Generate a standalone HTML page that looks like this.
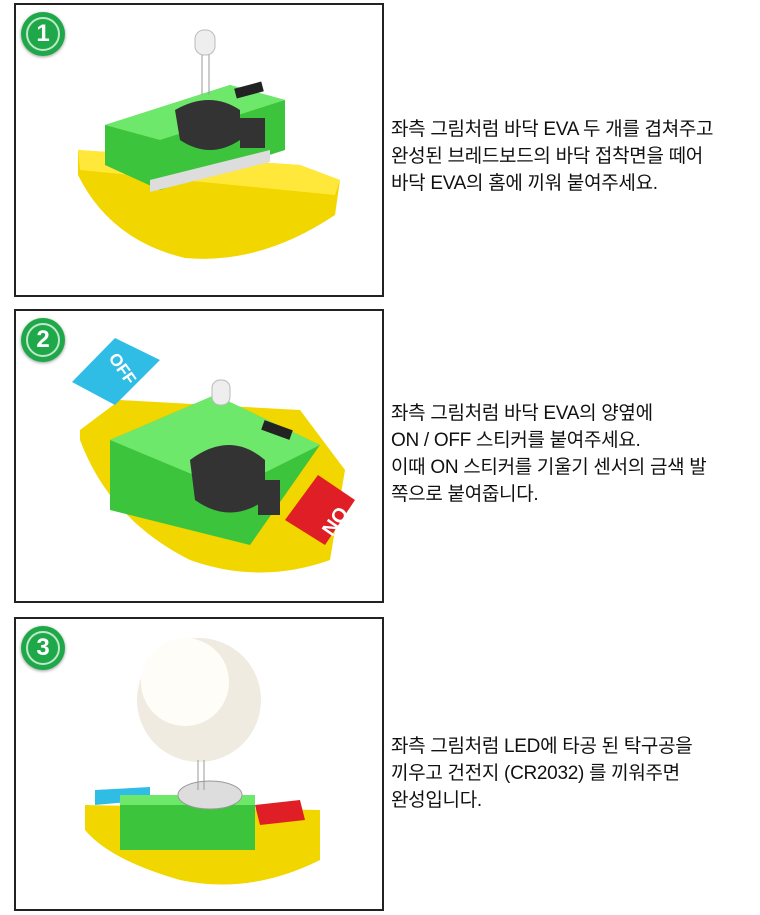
<!DOCTYPE html>
<html><head><meta charset="utf-8"><style>
body{margin:0;width:760px;height:915px;background:#fff;position:relative;overflow:hidden;font-family:"Liberation Sans","Noto Sans CJK KR",sans-serif}
.p{position:absolute;left:14px;width:366px;border:2px solid #222;background:#fff}
.t{position:absolute;left:391px;font-size:19px;line-height:27px;color:#111;white-space:nowrap;letter-spacing:-0.3px}
.b{position:absolute;left:21px;width:44px;height:44px;border-radius:50%;background:#1ea84a;box-shadow:0 1px 3px rgba(0,0,0,.4)}
.b span{position:absolute;left:5px;top:5px;width:30px;height:30px;border:2px solid #bfe8c9;border-radius:50%;color:#fff;font-weight:bold;font-size:24px;text-align:center;line-height:30px}
</style></head><body>
<div class="p" style="top:3px;height:290px"></div>
<div class="p" style="top:309px;height:290px"></div>
<div class="p" style="top:617px;height:290px"></div>
<div class="b" style="top:12px"><span>1</span></div>
<div class="b" style="top:318px"><span>2</span></div>
<div class="b" style="top:626px"><span>3</span></div>

<svg style="position:absolute;left:0;top:0" width="760" height="915">
<!-- panel1 -->
<path d="M78,150 L300,165 L340,180 L335,215 Q260,265 185,258 Q110,240 78,175 Z" fill="#f2d600"/>
<path d="M78,150 L300,165 L340,180 L335,195 L80,170Z" fill="#ffe83a"/>
<polygon points="105,125 230,85 285,100 285,150 160,190 105,165" fill="#3cc43c"/>
<polygon points="105,125 230,85 285,100 160,140" fill="#6ee86a"/>
<polygon points="150,180 270,150 270,162 150,192" fill="#ddd"/>
<path d="M175,110 Q210,90 240,110 L240,140 Q210,160 180,140Z" fill="#333"/>
<rect x="240" y="118" width="25" height="30" fill="#333"/>
<rect x="195" y="30" width="20" height="25" rx="9" fill="#eee" stroke="#bbb"/>
<line x1="202" y1="55" x2="202" y2="95" stroke="#999"/><line x1="209" y1="55" x2="209" y2="95" stroke="#999"/>
<rect x="235" y="85" width="28" height="10" fill="#222" transform="rotate(-15 249 90)"/>
<!-- panel2 -->
<path d="M80,430 L120,400 L300,410 L345,470 L330,560 Q260,585 190,560 Q110,520 80,440Z" fill="#f2d600"/>
<polygon points="72,382 115,338 160,360 115,405" fill="#2fbde6"/>
<text x="0" y="0" font-size="17" font-weight="bold" fill="#fff" transform="translate(108,358) rotate(55)">OFF</text>
<polygon points="110,440 215,395 320,445 250,545 110,510" fill="#3cc43c"/>
<polygon points="110,440 215,395 320,445 230,490" fill="#6ee86a"/>
<path d="M190,460 Q230,430 265,460 L265,500 Q230,525 195,500Z" fill="#333"/>
<rect x="258" y="480" width="22" height="35" fill="#333"/>
<polygon points="285,520 318,475 355,500 325,545" fill="#e01e25"/>
<text x="0" y="0" font-size="20" font-weight="bold" fill="#fff" transform="translate(338,505) rotate(125)">ON</text>
<rect x="212" y="380" width="18" height="25" rx="8" fill="#eee" stroke="#bbb"/>
<rect x="262" y="425" width="30" height="10" fill="#222" transform="rotate(20 277 430)"/>
<!-- panel3 -->
<circle cx="199" cy="700" r="62" fill="#f0ebe0"/>
<circle cx="185" cy="682" r="44" fill="#fffdf8"/>
<path d="M85,805 L320,810 L320,860 Q250,895 180,880 Q110,860 85,830Z" fill="#f2d600"/>
<polygon points="95,790 150,787 150,800 95,805" fill="#2fbde6"/>
<polygon points="255,805 300,800 305,820 260,825" fill="#e01e25"/>
<rect x="120" y="800" width="135" height="50" fill="#3cc43c"/>
<rect x="120" y="795" width="135" height="10" fill="#6ee86a"/>
<ellipse cx="210" cy="795" rx="32" ry="14" fill="#ddd" stroke="#999"/>
<line x1="198" y1="760" x2="198" y2="790" stroke="#999"/><line x1="204" y1="760" x2="204" y2="790" stroke="#999"/>
</svg>

<div class="t" style="top:116px">좌측 그림처럼 바닥 EVA 두 개를 겹쳐주고<br>완성된 브레드보드의 바닥 접착면을 떼어<br>바닥 EVA의 홈에 끼워 붙여주세요.</div>
<div class="t" style="top:400px">좌측 그림처럼 바닥 EVA의 양옆에<br>ON / OFF 스티커를 붙여주세요.<br>이때 ON 스티커를 기울기 센서의 금색 발<br>쪽으로 붙여줍니다.</div>
<div class="t" style="top:733px">좌측 그림처럼 LED에 타공 된 탁구공을<br>끼우고 건전지 (CR2032) 를 끼워주면<br>완성입니다.</div>
</body></html>
